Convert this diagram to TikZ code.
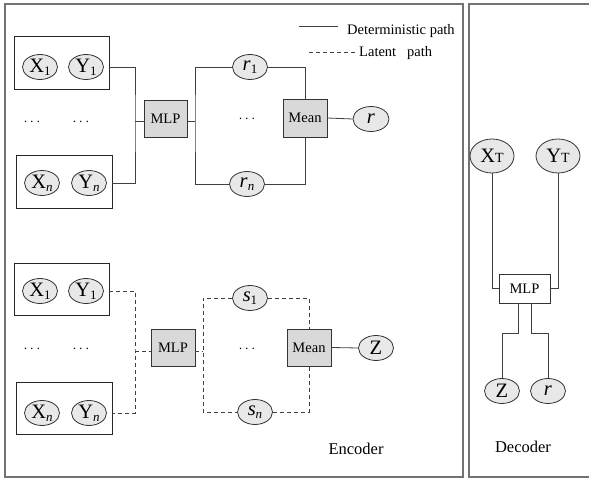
\documentclass[tikz,border=0pt]{standalone}
\usepackage{fontspec}
\setmainfont{Liberation Serif}
\usetikzlibrary{shapes.geometric}
\newcommand{\lowsub}[1]{\raisebox{-0.35ex}{\fontsize{13}{13}\selectfont #1}}
\newcommand{\basesub}[1]{{\fontsize{14}{14}\selectfont #1}}
\begin{document}
\begin{tikzpicture}[x=1pt,y=-1pt, font=\fontsize{14.5}{16}\selectfont,
 ell/.style={ellipse, draw=black!80, fill=black!9, line width=0.8pt, minimum width=35pt, minimum height=25pt, inner sep=0pt, font=\fontsize{20.5}{22}\selectfont},
 bigell/.style={ell, minimum width=44pt, minimum height=34pt},
 gbox/.style={draw=black!80, fill=black!15, line width=0.8pt, inner sep=0pt},
 grp/.style={draw=black!85, line width=0.9pt, inner sep=0pt},
 wire/.style={draw=black!75, line width=0.8pt},
 lat/.style={wire, dash pattern=on 4pt off 3pt},
 frame/.style={draw=black!55, line width=1.5pt},
 big/.style={font=\fontsize{16.5}{18}\selectfont}]
\useasboundingbox (0,0) rectangle (589,478);
\fill[white] (0,0) rectangle (589,478);
% frames
\draw[frame] (5,4) rectangle (463,477);
\draw[frame] (589,4) -- (469,4) -- (469,477) -- (589,477);

% legend
\coordinate (la) at (299,26); \coordinate (lb) at (338,26);
\coordinate (lc) at (309,52); \coordinate (ld) at (355,52);
\draw[wire] (la) -- (lb);
\draw[lat] (lc) -- (ld);
\node[anchor=west, inner sep=0pt] (legd) at (347,31) {Deterministic path};
\node[anchor=west, inner sep=0pt] (legl) at (359,53) {Latent\ \ \ path};

% ---------- encoder, deterministic ----------
\node[grp, minimum width=95pt, minimum height=53pt] (box1) at (61.5,62.5) {};
\node[grp, minimum width=96pt, minimum height=53pt] (box2) at (64,181.5) {};
\node[ell] (x1a) at (40,67) {X\lowsub{1}};
\node[ell] (y1a) at (86,67) {Y\lowsub{1}};
\node[ell] (xna) at (42,183) {X\lowsub{\textit{n}}};
\node[ell] (yna) at (89,183) {Y\lowsub{\textit{n}}};
\node (da1) at (32,122) {$\cdots$};
\node (da2) at (81,122) {$\cdots$};
\node[gbox, minimum width=43pt, minimum height=37pt] (mlpa) at (165.5,118.5) {MLP};
\node[ell] (r1) at (250,67) {\textit{r}\lowsub{1}};
\node[ell] (rn) at (247,184) {\textit{r}\lowsub{\textit{n}}};
\node (da3) at (247,119) {$\cdots$};
\node[gbox, minimum width=44pt, minimum height=38pt] (meana) at (305,118) {Mean};
\node[ell, minimum width=36pt] (ra) at (371,119) {\textit{r}};
\coordinate (ja) at (135,121);
\coordinate (ka) at (195,121);
\draw[wire] (box1.east |- y1a) -| (ja) |- (box2.east |- yna);
\draw[wire] (ja) -- (mlpa.west |- ja);
\draw[wire] (mlpa.east |- ka) -- (ka);
\draw[wire] (r1.west) -| (ka) |- (rn.west);
\draw[wire] (r1.east) -| (meana.north);
\draw[wire] (rn.east) -| (meana.south);
\draw[wire] (meana.east) -- (ra.west);

% ---------- encoder, latent ----------
\node[grp, minimum width=95pt, minimum height=52pt] (box3) at (61.5,289) {};
\node[grp, minimum width=96pt, minimum height=52pt] (box4) at (64,408) {};
\node[ell] (x1b) at (40,291) {X\lowsub{1}};
\node[ell] (y1b) at (86,291) {Y\lowsub{1}};
\node[ell] (xnb) at (42,413) {X\lowsub{\textit{n}}};
\node[ell] (ynb) at (89,413) {Y\lowsub{\textit{n}}};
\node (db1) at (32,349) {$\cdots$};
\node (db2) at (81,349) {$\cdots$};
\node[gbox, minimum width=44pt, minimum height=37pt] (mlpb) at (173,347.5) {MLP};
\node[ell] (s1) at (250,298) {\textit{s}\lowsub{1}};
\node[ell] (sn) at (255,412) {\textit{s}\lowsub{\textit{n}}};
\node (db3) at (247,349) {$\cdots$};
\node[gbox, minimum width=44pt, minimum height=37pt] (meanb) at (309,347.5) {Mean};
\node[ell] (zb) at (376,348) {Z};
\coordinate (jb) at (135,351);
\coordinate (kb) at (203,351);
\draw[lat] (box3.east |- y1b) -| (jb) |- (box4.east |- ynb);
\draw[lat] (jb) -- (mlpb.west |- jb);
\draw[lat] (mlpb.east |- kb) -- (kb);
\draw[lat] (s1.west) -| (kb) |- (sn.west);
\draw[lat] (s1.east) -| (meanb.north);
\draw[lat] (sn.east) -| (meanb.south);
\draw[wire] (meanb.east) -- (zb.west);
\node[big] (enc) at (356,449) {Encoder};

% ---------- decoder ----------
\node[bigell] (xt) at (492,156) {X\basesub{T}};
\node[bigell] (yt) at (558,156) {Y\basesub{T}};
\node[draw=black!80, fill=white, line width=0.8pt, minimum width=51pt, minimum height=29pt, inner sep=0pt] (mlpc) at (524.5,288.5) {MLP};
\node[ell] (zd) at (502,391) {Z};
\node[ell] (rd) at (548,391) {\textit{r}};
\draw[wire] (xt.south) |- (mlpc.west);
\draw[wire] (yt.south) |- (mlpc.east);
\coordinate (m1) at (518,303);
\coordinate (m2) at (531,303);
\draw[wire] (m1) -- (518,333) -| (zd.north);
\draw[wire] (m2) -- (531,333) -| (rd.north);
\node[big] (dec) at (523,447) {Decoder};
\end{tikzpicture}
\end{document}
